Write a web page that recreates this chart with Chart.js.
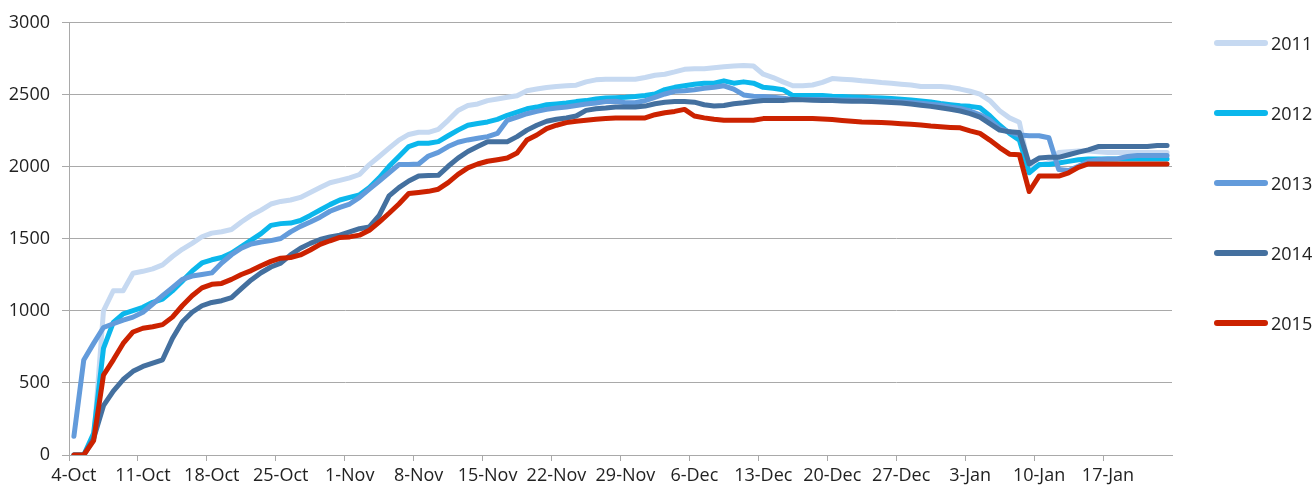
<!DOCTYPE html>
<html>
<head>
<meta charset="utf-8">
<script src="https://cdn.jsdelivr.net/npm/chart.js@4.4.1/dist/chart.umd.min.js"></script>
<style>
  html, body { margin: 0; padding: 0; background: #fff; }
  #wrap { position: relative; width: 1312px; height: 489px; }
  #legend { position: absolute; left: 1214px; top: 0; font-family: 'Open Sans', sans-serif; font-size: 18px; color: #222; }
  .item { position: absolute; left: 0; height: 24px; display: flex; align-items: center; white-space: nowrap; }
  .swatch { width: 54px; height: 6px; border-radius: 3px; margin-right: 3px; }
</style>
</head>
<body>
<div id="wrap">
  <canvas id="chart"></canvas>
  <div id="legend"></div>
</div>
<script>
// ── Data ──
const startDate = new Date(2015, 9, 4);   // 4-Oct
const dayCount  = 112;                    // 4-Oct .. 23-Jan
const tickLabels = ['4-Oct','11-Oct','18-Oct','25-Oct','1-Nov','8-Nov','15-Nov','22-Nov',
                    '29-Nov','6-Dec','13-Dec','20-Dec','27-Dec','3-Jan','10-Jan','17-Jan'];
const seriesNames = ['2011','2012','2013','2014','2015'];
const seriesColors = ['#c6d9f1','#0bb7ec','#639bdb','#44709f','#cc2200'];

const y2011 = [0,0,100,1000,1140,1140,1262,1275,1292,1320,1378,1428,1469,1515,1540,1550,1565,1617,1663,1700,
  1742,1760,1770,1788,1822,1856,1890,1906,1924,1947,2016,2072,2130,2186,2225,2240,2240,2260,2323,2392,
  2426,2437,2460,2471,2483,2494,2528,2540,2551,2558,2563,2567,2590,2604,2608,2608,2608,2608,2620,2636,
  2643,2659,2677,2681,2681,2688,2695,2700,2704,2700,2643,2620,2590,2563,2563,2568,2586,2613,2608,2604,
  2597,2593,2586,2581,2574,2568,2558,2558,2558,2552,2540,2525,2505,2460,2390,2340,2310,1990,2010,2030,
  2100,2105,2110,2110,2105,2100,2100,2100,2100,2100,2100,2100];
const y2012 = [0,0,150,740,920,980,1002,1025,1060,1082,1139,1207,1276,1333,1355,1371,1401,1446,1492,1537,
  1594,1606,1610,1628,1663,1701,1738,1770,1788,1806,1856,1924,2004,2072,2141,2164,2164,2175,2216,2255,
  2289,2301,2312,2330,2358,2380,2403,2415,2431,2437,2444,2453,2460,2471,2478,2480,2483,2488,2495,2506,
  2536,2552,2563,2574,2581,2581,2597,2581,2590,2581,2552,2545,2536,2495,2495,2495,2495,2490,2488,2485,
  2483,2480,2478,2475,2470,2465,2458,2450,2440,2432,2425,2420,2410,2355,2289,2232,2186,1959,2016,2016,
  2027,2038,2050,2054,2054,2054,2054,2054,2054,2054,2054,2054];
const y2013 = [130,660,775,885,911,936,957,991,1048,1106,1162,1219,1242,1253,1264,1333,1390,1435,1465,1478,
  1488,1503,1549,1587,1617,1651,1692,1719,1742,1788,1845,1902,1959,2016,2016,2020,2075,2100,2141,2171,
  2187,2198,2210,2232,2323,2346,2369,2385,2399,2408,2415,2426,2437,2444,2453,2455,2445,2445,2460,2483,
  2506,2524,2529,2536,2545,2552,2563,2540,2499,2490,2488,2483,2476,2467,2467,2467,2467,2466,2465,2464,
  2462,2460,2458,2455,2452,2447,2442,2435,2428,2415,2405,2388,2362,2326,2266,2243,2221,2216,2216,2202,
  1982,1975,2004,2038,2050,2054,2057,2072,2079,2079,2079,2079];
const y2014 = [0,0,114,342,444,524,581,615,638,661,809,923,991,1036,1059,1071,1093,1155,1215,1265,
  1305,1332,1389,1435,1469,1496,1514,1526,1549,1571,1583,1663,1799,1856,1902,1936,1940,1941,2004,2061,
  2107,2141,2175,2175,2175,2210,2255,2289,2317,2330,2339,2353,2392,2403,2408,2415,2415,2415,2422,2438,
  2449,2454,2454,2449,2431,2422,2426,2438,2445,2454,2460,2460,2460,2467,2465,2462,2460,2460,2458,2456,
  2455,2453,2450,2447,2443,2436,2428,2420,2410,2400,2388,2370,2345,2300,2255,2243,2239,2020,2061,2066,
  2066,2084,2102,2118,2141,2141,2141,2141,2141,2141,2148,2148];
const y2015 = [0,0,100,555,661,774,854,880,890,905,957,1036,1105,1160,1185,1191,1219,1253,1280,1314,
  1344,1366,1371,1389,1423,1462,1487,1510,1514,1526,1560,1617,1678,1742,1815,1822,1830,1845,1891,1948,
  1993,2020,2039,2050,2061,2096,2187,2221,2266,2289,2307,2317,2323,2330,2335,2340,2340,2340,2340,2362,
  2376,2385,2399,2353,2340,2331,2324,2324,2324,2324,2335,2335,2335,2335,2335,2335,2333,2328,2322,2317,
  2312,2310,2308,2305,2300,2295,2290,2283,2278,2274,2271,2250,2232,2186,2134,2088,2084,1829,1936,1936,
  1936,1959,1997,2020,2020,2020,2020,2020,2020,2020,2020,2020];
const seriesValues = [y2011, y2012, y2013, y2014, y2015];

// ── Category labels (one per day) ──
const MONTHS = ['Jan','Feb','Mar','Apr','May','Jun','Jul','Aug','Sep','Oct','Nov','Dec'];
const days = [];
for (let i = 0; i < dayCount; i++) {
  const d = new Date(startDate.getFullYear(), startDate.getMonth(), startDate.getDate() + i);
  days.push(d.getDate() + '-' + MONTHS[d.getMonth()]);
}

const FONT = "'Open Sans', sans-serif";
const GRID = '#a9a9a9';
const TEXT = '#222';

Chart.defaults.font.family = FONT;
Chart.defaults.font.size = 18;
Chart.defaults.color = TEXT;

const datasets = seriesNames.map((name, k) => ({
  label: name,
  data: seriesValues[k],
  borderColor: seriesColors[k],
  backgroundColor: seriesColors[k],
  borderWidth: 5,
  pointRadius: 0,
  tension: 0,
  borderJoinStyle: 'round',
  borderCapStyle: 'round',
  fill: false,
  order: seriesNames.length - k,
}));

new Chart(document.getElementById('chart'), {
  type: 'line',
  data: { labels: days, datasets },
  options: {
    responsive: true,
    maintainAspectRatio: false,
    animation: false,
    layout: { padding: { top: 16, right: 140, bottom: 0, left: 0 } },
    plugins: { legend: { display: false }, tooltip: { enabled: false } },
    scales: {
      x: {
        offset: true,
        grid: {
          offset: true,
          drawOnChartArea: false,
          drawTicks: true,
          tickLength: 6,
          color: ctx => (ctx.index % 7 === 0 ? GRID : 'rgba(0,0,0,0)'),
        },
        border: { display: true, color: GRID, width: 1 },
        ticks: {
          autoSkip: false,
          maxRotation: 0,
          minRotation: 0,
          padding: 4,
          color: TEXT,
          font: { size: 18 },
          callback: (v, i) => (tickLabels.includes(days[i]) ? days[i] : ''),
        },
        afterFit: s => { s.height = 34; },
      },
      y: {
        min: 0,
        max: 3000,
        ticks: { stepSize: 500, padding: 12, color: TEXT, font: { size: 18 }, callback: v => String(v) },
        grid: { color: GRID, lineWidth: 1, tickLength: 7 },
        border: { display: true, color: GRID, width: 1 },
        afterFit: s => { s.width = 69; },
      },
    },
  },
});

// ── Legend ──
const legendEl = document.getElementById('legend');
const legendY = [43, 113, 183, 253, 323];
seriesNames.forEach((name, k) => {
  const item = document.createElement('div');
  item.className = 'item';
  item.style.top = (legendY[k] - 12) + 'px';
  item.innerHTML = '<span class="swatch" style="background:' + seriesColors[k] + '"></span><span>' + name + '</span>';
  legendEl.appendChild(item);
});
</script>
</body>
</html>
